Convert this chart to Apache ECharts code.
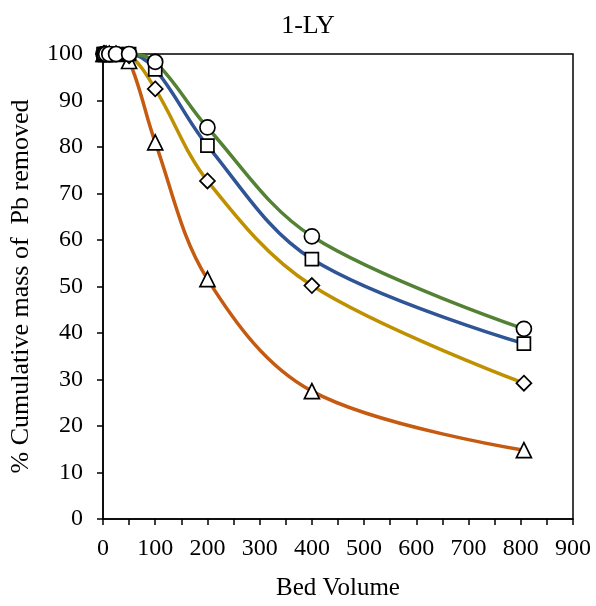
<!DOCTYPE html>
<html>
<head>
<meta charset="utf-8">
<script src="https://cdn.jsdelivr.net/npm/echarts@6/dist/echarts.min.js"></script>
<style>
html,body{margin:0;padding:0;background:#fff;}
#chart{width:596px;height:606px;}
</style>
</head>
<body>
<div id="chart"></div>
<script>
var bedVolume = [1, 3, 6, 12, 25, 50, 100, 200, 400, 806];
var circleSeries = [100, 100, 100, 100, 100, 100, 98.3, 84.2, 60.8, 40.9];
var squareSeries = [100, 100, 100, 100, 100, 100, 96.7, 80.3, 55.9, 37.7];
var diamondSeries = [100, 100, 100, 100, 100, 99.6, 92.5, 72.7, 50.2, 29.2];
var triangleSeries = [100, 100, 100, 100, 100, 98.5, 81.0, 51.6, 27.5, 14.8];
var xTicks = [0, 100, 200, 300, 400, 500, 600, 700, 800, 900];
var yTicks = [0, 10, 20, 30, 40, 50, 60, 70, 80, 90, 100];

function pairs(ys) { return bedVolume.map(function (x, i) { return [x, ys[i]]; }); }

var FONT = 'Liberation Serif';
function mk(name, data, color, symbol, size) {
  return {
    name: name, type: 'line', data: pairs(data), smooth: 0.35,
    symbol: symbol, symbolSize: size, showAllSymbol: true,
    lineStyle: { color: color, width: 3.5 },
    itemStyle: { color: '#fff', borderColor: '#000', borderWidth: 1.7 },
    z: 2
  };
}

var chart = echarts.init(document.getElementById('chart'));
chart.setOption({
  animation: false,
  backgroundColor: '#fff',
  title: {
    text: '1-LY', left: 303, top: 8, textAlign: 'center',
    textStyle: { fontFamily: FONT, fontSize: 26, fontWeight: 'normal', color: '#000' }
  },
  grid: { left: 103, right: 23, top: 54, bottom: 86, show: true, borderColor: '#000', borderWidth: 1.5, backgroundColor: 'transparent' },
  xAxis: {
    type: 'value', min: xTicks[0], max: xTicks[xTicks.length - 1], interval: 100,
    name: 'Bed Volume', nameLocation: 'middle', nameGap: 57,
    nameTextStyle: { fontFamily: FONT, fontSize: 25, color: '#000' },
    axisLine: { lineStyle: { color: '#000', width: 1.5 } },
    axisTick: { show: true, inside: false, length: 6, lineStyle: { color: '#000', width: 1.5 } },
    minorTick: { show: true, splitNumber: 2, length: 6, lineStyle: { color: '#000', width: 1.5 } },
    axisLabel: { fontFamily: FONT, fontSize: 24, color: '#000', margin: 18 },
    splitLine: { show: false }
  },
  yAxis: {
    type: 'value', min: yTicks[0], max: yTicks[yTicks.length - 1], interval: 10,
    name: '% Cumulative mass of  Pb removed', nameLocation: 'middle', nameGap: 69,
    nameTextStyle: { fontFamily: FONT, fontSize: 26, color: '#000' },
    axisLine: { lineStyle: { color: '#000', width: 1.5 } },
    axisTick: { show: true, inside: false, length: 6, lineStyle: { color: '#000', width: 1.5 } },
    axisLabel: { fontFamily: FONT, fontSize: 24, color: '#000', margin: 20 },
    splitLine: { show: false }
  },
  series: [
    mk('triangle', triangleSeries, '#C55A11', 'triangle', 15),
    mk('diamond', diamondSeries, '#BF9000', 'diamond', 15),
    mk('square', squareSeries, '#2F5597', 'rect', 13),
    mk('circle', circleSeries, '#548235', 'circle', 15)
  ]
});
</script>
</body>
</html>
